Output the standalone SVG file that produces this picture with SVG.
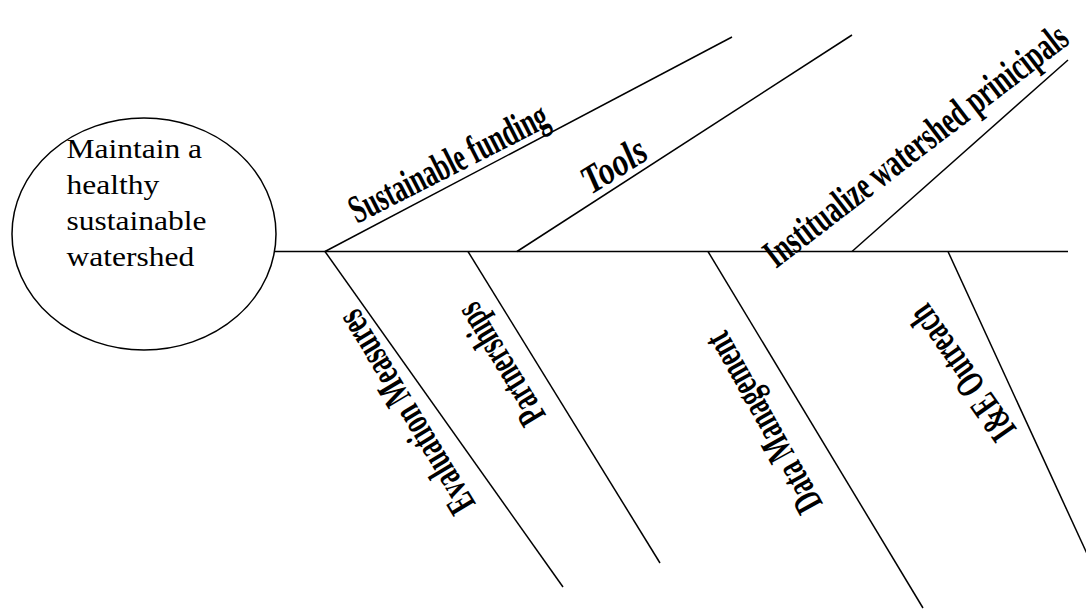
<svg xmlns="http://www.w3.org/2000/svg" width="1086" height="611" viewBox="0 0 1086 611">
<style>
.ln{stroke:#000;stroke-width:1.5;fill:none;stroke-linecap:butt}
.head{font-size:28px;fill:#000}
.lbl{font-size:40px;font-weight:bold;fill:#000}
.it{font-style:italic}
</style>
<rect width="1086" height="611" fill="#fff"/>
<g id="connectors">
<line class="ln" x1="275" y1="251.5" x2="1068" y2="251.5"/>
<line class="ln" x1="325" y1="251.5" x2="732" y2="37"/>
<line class="ln" x1="517" y1="251.5" x2="852" y2="35"/>
<line class="ln" x1="852" y1="251.5" x2="1068" y2="60"/>
<line class="ln" x1="325" y1="251.5" x2="563" y2="587"/>
<line class="ln" x1="468" y1="251.5" x2="660" y2="563"/>
<line class="ln" x1="708" y1="251.5" x2="923" y2="608"/>
<line class="ln" x1="948" y1="251.5" x2="1100" y2="582"/>
</g>
<g id="head">
<ellipse cx="144" cy="234" rx="132" ry="116" fill="#fff" stroke="#000" stroke-width="1.5"/>
<g transform="translate(66.5 0) scale(1.125 1)" font-family="'Liberation Serif', 'Times New Roman', serif">
<text class="head" x="0" y="158.5">Maintain a</text>
<text class="head" x="0" y="194.5">healthy</text>
<text class="head" x="0" y="230.5">sustainable</text>
<text class="head" x="0" y="266.5">watershed</text>
</g>
</g>
<g font-family="'Liberation Serif', 'Times New Roman', serif">
<g id="sustainable-funding">
<text class="lbl" transform="translate(357 224) rotate(-27)" textLength="218" lengthAdjust="spacingAndGlyphs">Sustainable funding</text>
</g>
<g id="tools">
<text class="lbl it" transform="translate(591 195) rotate(-32)" textLength="70" lengthAdjust="spacingAndGlyphs">Tools</text>
</g>
<g id="institualize">
<text class="lbl" transform="translate(776 269) rotate(-37.5)" textLength="372" lengthAdjust="spacingAndGlyphs">Institualize watershed prinicipals</text>
</g>
<g id="evaluation-measures">
<text class="lbl" text-anchor="middle" transform="translate(417 405.5) rotate(-121)" textLength="230" lengthAdjust="spacingAndGlyphs">Evaluation Measures</text>
</g>
<g id="partnerships">
<text class="lbl" text-anchor="middle" transform="translate(511.5 357.5) rotate(-121.3)" textLength="135" lengthAdjust="spacingAndGlyphs">Partnerships</text>
</g>
<g id="data-management">
<text class="lbl" text-anchor="middle" transform="translate(774.5 416.5) rotate(-119.2)" textLength="200" lengthAdjust="spacingAndGlyphs">Data Management</text>
</g>
<g id="ie-outreach">
<text class="lbl" text-anchor="middle" transform="translate(972.5 365.5) rotate(-125.2)" textLength="156" lengthAdjust="spacingAndGlyphs">I&amp;E Outreach</text>
</g>
</g>
</svg>
